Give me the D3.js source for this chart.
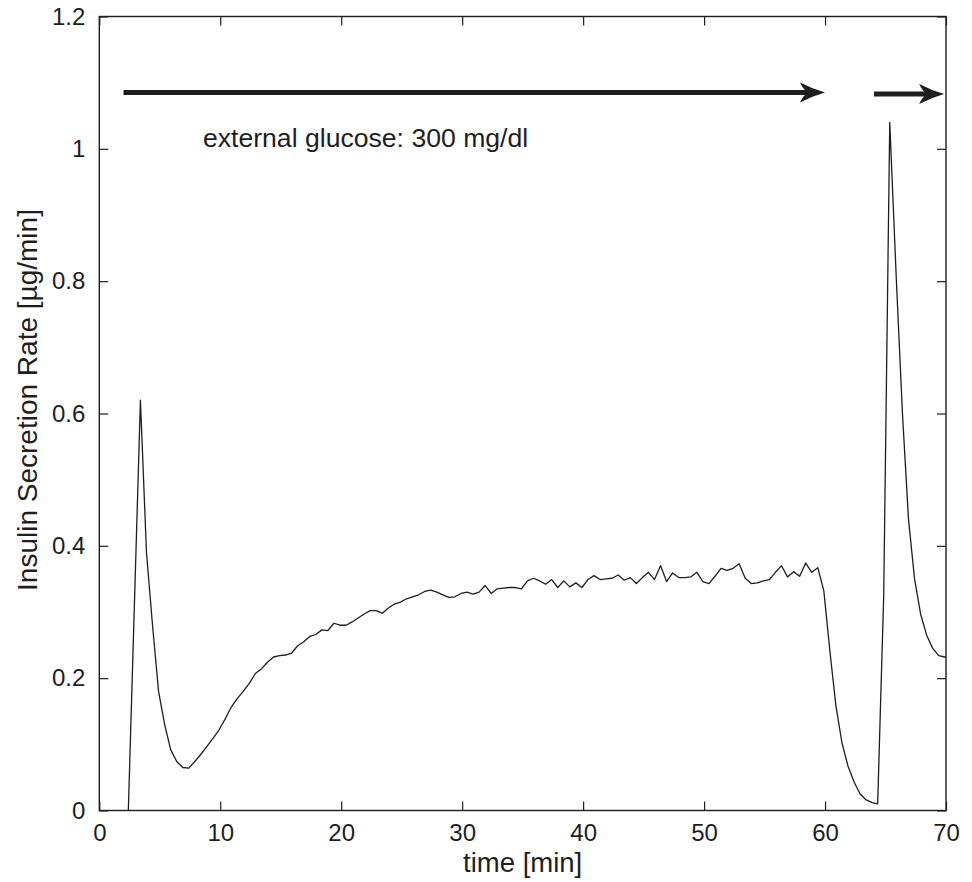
<!DOCTYPE html>
<html>
<head>
<meta charset="utf-8">
<script src="https://cdn.jsdelivr.net/npm/d3@7"></script>
<style>
  body { margin: 0; background: #fff; }
  svg { font-family: "Liberation Sans", Arial, sans-serif; }
</style>
</head>
<body>
<div id="chart"></div>
<script>
// chart size and margins (plot box runs 99..946 x 16.5..810.5)
const width = 972;
const height = 882;
const margin = {left: 99.3, right: 26, top: 16.5, bottom: 71.5};

// data: time [min] and insulin secretion rate [ug/min]
const time = [
  2.4, 2.9, 3.4, 3.9, 4.4, 4.9, 5.4, 5.9, 6.4, 6.9,
  7.4, 7.9, 8.4, 8.9, 9.4, 9.9, 10.4, 10.9, 11.4, 11.9,
  12.4, 12.9, 13.4, 13.9, 14.4, 14.9, 15.4, 15.9, 16.4, 16.9,
  17.4, 17.9, 18.4, 18.9, 19.4, 19.9, 20.4, 20.9, 21.4, 21.9,
  22.4, 22.9, 23.4, 23.9, 24.4, 24.9, 25.4, 25.9, 26.4, 26.9,
  27.4, 27.9, 28.4, 28.9, 29.4, 29.9, 30.4, 30.9, 31.4, 31.9,
  32.4, 32.9, 33.4, 33.9, 34.4, 34.9, 35.4, 35.9, 36.4, 36.9,
  37.4, 37.9, 38.4, 38.9, 39.4, 39.9, 40.4, 40.9, 41.4, 41.9,
  42.4, 42.9, 43.4, 43.9, 44.4, 44.9, 45.4, 45.9, 46.4, 46.9,
  47.4, 47.9, 48.4, 48.9, 49.4, 49.9, 50.4, 50.9, 51.4, 51.9,
  52.4, 52.9, 53.4, 53.9, 54.4, 54.9, 55.4, 55.9, 56.4, 56.9,
  57.4, 57.9, 58.4, 58.9, 59.4, 59.9, 60.4, 60.9, 61.4, 61.9,
  62.4, 62.9, 63.4, 63.9, 64.35, 64.85, 65.35, 65.9, 66.4, 66.9,
  67.4, 67.9, 68.4, 68.9, 69.4, 69.9, 70.4
];
const rate = [
  0, 0.31, 0.62, 0.39, 0.28, 0.18, 0.13, 0.092, 0.074, 0.065,
  0.064, 0.074, 0.085, 0.097, 0.109, 0.122, 0.138, 0.156, 0.169, 0.180,
  0.192, 0.207, 0.214, 0.224, 0.232, 0.234, 0.235, 0.238, 0.249, 0.255,
  0.263, 0.266, 0.273, 0.272, 0.283, 0.280, 0.280, 0.285, 0.291, 0.297,
  0.302, 0.302, 0.298, 0.306, 0.312, 0.315, 0.320, 0.323, 0.326, 0.331,
  0.333, 0.330, 0.326, 0.322, 0.323, 0.328, 0.330, 0.327, 0.330, 0.340,
  0.328, 0.335, 0.336, 0.337, 0.337, 0.335, 0.347, 0.351, 0.347, 0.342,
  0.349, 0.337, 0.347, 0.338, 0.344, 0.337, 0.349, 0.355, 0.349, 0.350,
  0.351, 0.356, 0.348, 0.352, 0.343, 0.352, 0.360, 0.349, 0.370, 0.346,
  0.359, 0.352, 0.352, 0.353, 0.360, 0.346, 0.343, 0.354, 0.366, 0.363,
  0.366, 0.373, 0.351, 0.343, 0.344, 0.347, 0.349, 0.360, 0.370, 0.353,
  0.361, 0.354, 0.374, 0.360, 0.367, 0.332, 0.241, 0.158, 0.102, 0.067,
  0.043, 0.025, 0.016, 0.012, 0.010, 0.325, 1.04, 0.80, 0.60, 0.44,
  0.35, 0.297, 0.265, 0.245, 0.234, 0.232, 0.232
];

// axis ticks
const xTicks = [0, 10, 20, 30, 40, 50, 60, 70];
const yTicks = [0, 0.2, 0.4, 0.6, 0.8, 1, 1.2];

// glucose arrows: start, end (min) and level
const arrowStart = [2, 64.05];
const arrowEnd = [60, 69.85];
const arrowLevel = [1.085, 1.083];

const note = "external glucose: 300 mg/dl";

const svg = d3.select("#chart")
  .append("svg")
  .attr("width", width)
  .attr("height", height);

const x = d3.scaleLinear()
  .domain([0, 70])
  .range([margin.left, width - margin.right]);

const y = d3.scaleLinear()
  .domain([0, 1.2])
  .range([height - margin.bottom, margin.top]);

const ink = "#1e1e1e";

svg.append("clipPath")
  .attr("id", "plot-clip")
  .append("rect")
  .attr("x", x(0))
  .attr("y", y(1.2))
  .attr("width", x(70) - x(0))
  .attr("height", y(0) - y(1.2));

// curve
const pts = time.map((t, i) => [t, rate[i]]);
svg.append("path")
  .datum(pts)
  .attr("clip-path", "url(#plot-clip)")
  .attr("fill", "none")
  .attr("stroke", ink)
  .attr("stroke-width", 1.3)
  .attr("stroke-linejoin", "round")
  .attr("d", d3.line().x(d => x(d[0])).y(d => y(d[1])));

// axes, ticks pointing inward, mirrored on top and right
const tickLen = 9;
const axisStyle = g => {
  g.attr("font-size", 24)
   .attr("font-family", "Liberation Sans, Arial, sans-serif");
  g.select(".domain").remove();
  g.selectAll(".tick line").attr("stroke", ink).attr("stroke-width", 1.2);
  g.selectAll(".tick text").attr("fill", ink);
};

svg.append("g")
  .attr("transform", `translate(0,${y(0)})`)
  .call(d3.axisBottom(x).tickValues(xTicks).tickSizeInner(-tickLen).tickSizeOuter(0).tickPadding(13))
  .call(axisStyle);

svg.append("g")
  .attr("transform", `translate(${x(0)},0)`)
  .call(d3.axisLeft(y).tickValues(yTicks).tickFormat(d3.format("~g")).tickSizeInner(-tickLen).tickSizeOuter(0).tickPadding(14))
  .call(axisStyle);

svg.append("g")
  .attr("transform", `translate(0,${y(1.2)})`)
  .call(d3.axisTop(x).tickValues(xTicks).tickFormat("").tickSizeInner(-tickLen).tickSizeOuter(0))
  .call(axisStyle);

svg.append("g")
  .attr("transform", `translate(${x(70)},0)`)
  .call(d3.axisRight(y).tickValues(yTicks).tickFormat("").tickSizeInner(-tickLen).tickSizeOuter(0))
  .call(axisStyle);

// plot box
svg.append("rect")
  .attr("x", x(0))
  .attr("y", y(1.2))
  .attr("width", x(70) - x(0))
  .attr("height", y(0) - y(1.2))
  .attr("fill", "none")
  .attr("stroke", ink)
  .attr("stroke-width", 1.4);

// arrows
const headLen = 25, headHalf = 10, notch = 17;
arrowStart.forEach((x0, i) => {
  const yy = y(arrowLevel[i]);
  const xs = x(x0), xe = x(arrowEnd[i]);
  svg.append("line")
    .attr("x1", xs).attr("x2", xe - notch + 2)
    .attr("y1", yy).attr("y2", yy)
    .attr("stroke", ink)
    .attr("stroke-width", 5);
  svg.append("path")
    .attr("transform", `translate(${xe},${yy})`)
    .attr("fill", ink)
    .attr("d", `M0,0 Q${-headLen * 0.5},${-headHalf * 0.35} ${-headLen},${-headHalf}
                Q${-headLen + 3},${-3} ${-notch},0
                Q${-headLen + 3},3 ${-headLen},${headHalf}
                Q${-headLen * 0.5},${headHalf * 0.35} 0,0 Z`);
});

// annotation
svg.append("text")
  .attr("x", x(8.57))
  .attr("y", y(1.003))
  .attr("font-size", 26.6)
  .attr("fill", ink)
  .text(note);

// axis labels
svg.append("text")
  .attr("x", (x(0) + x(70)) / 2)
  .attr("y", 872)
  .attr("text-anchor", "middle")
  .attr("font-size", 27.5)
  .attr("fill", ink)
  .text("time [min]");

svg.append("text")
  .attr("transform", `translate(37,400) rotate(-90)`)
  .attr("text-anchor", "middle")
  .attr("font-size", 28)
  .attr("fill", ink)
  .text("Insulin Secretion Rate [µg/min]");
</script>
</body>
</html>
